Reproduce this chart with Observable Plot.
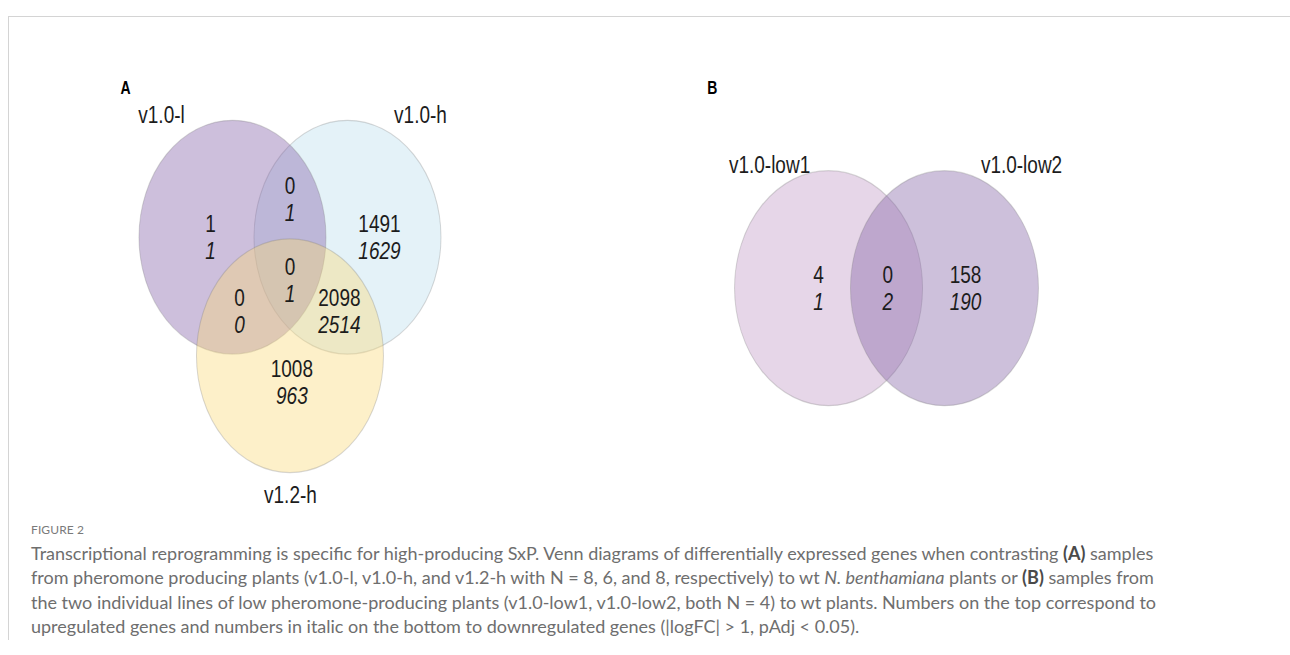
<!DOCTYPE html>
<html>
<head>
<meta charset="utf-8">
<script src="https://cdn.jsdelivr.net/npm/d3@7"></script>
<script src="https://cdn.jsdelivr.net/npm/@observablehq/plot@0.6"></script>
<style>
  html, body { margin: 0; padding: 0; background: #fff; }
  #page { position: relative; width: 1290px; height: 655px; overflow: hidden; }
  #frame { position: absolute; left: 8px; top: 16px; width: 1290px; height: 624px;
           border-top: 1px solid #d4d4d4; border-left: 1px solid #d4d4d4; box-sizing: border-box; }
  #chart { position: absolute; left: 0; top: 0; }
  #chart svg { transform: scaleY(1.25); transform-origin: 0 0; display: block; }
  #caption { position: absolute; left: 31px; top: 521px; font-family: Lato, "Open Sans", sans-serif; color: #6e6e6e; }
  #caption .fig { font-size: 12px; line-height: 18px; letter-spacing: 0.1px; color: #7a7a7a; }
  #caption .txt { margin-top: 2px; font-size: 18px; line-height: 24.3px; white-space: nowrap; }
  #caption b { color: #4a4a4a; }
</style>
</head>
<body>
<div id="page">
  <div id="frame"></div>
  <div id="chart"></div>
  <div id="caption">
    <div class="fig">FIGURE 2</div>
    <div class="txt">Transcriptional reprogramming is specific for high-producing SxP. Venn diagrams of differentially expressed genes when contrasting <b>(A)</b> samples<br>from pheromone producing plants (v1.0-l, v1.0-h, and v1.2-h with N = 8, 6, and 8, respectively) to wt <i>N. benthamiana</i> plants or <b>(B)</b> samples from<br>the two individual lines of low pheromone-producing plants (v1.0-low1, v1.0-low2, both N = 4) to wt plants. Numbers on the top correspond to<br>upregulated genes and numbers in italic on the bottom to downregulated genes (|logFC| &gt; 1, pAdj &lt; 0.05).</div>
  </div>
</div>
<script>
// ---------- data ----------
const setsA = ["v1.0-l", "v1.0-h", "v1.2-h"];
const regionsA = ["v1.0-l only", "v1.0-l & v1.0-h", "v1.0-h only", "all three", "v1.0-l & v1.2-h", "v1.0-h & v1.2-h", "v1.2-h only"];
const upA   = [1, 0, 1491, 0, 0, 2098, 1008];
const downA = [1, 1, 1629, 1, 0, 2514, 963];

const setsB = ["v1.0-low1", "v1.0-low2"];
const regionsB = ["v1.0-low1 only", "both", "v1.0-low2 only"];
const upB   = [4, 0, 158];
const downB = [1, 2, 190];

const panelLabels = ["A", "B"];

// ---------- layout (in units of circle radius) ----------
const U = 93.5;                 // px per unit (logical, before vertical stretch)
const W = 1290, H = 410;
const originA = [3.096, 2.531], originB = [9.476, 2.460];
const venn3Centers  = [[-0.615, -0.507], [0.615, -0.507], [0, 0.507]];
const venn3Regions  = [[-0.850, -0.498], [0, -0.823], [0.957, -0.498], [0, -0.135], [-0.540, 0.135], [0.529, 0.135], [0.02, 0.738]];
const venn3SetLbls  = [[-1.374, -1.550], [1.396, -1.550], [0.005, 1.705]];
const venn2Centers  = [[-0.62, 0], [0.62, 0]];
const venn2Regions  = [[-0.727, 0.007], [0.014, 0.007], [0.845, 0.007]];
const venn2SetLbls  = [[-1.251, -1.048], [1.444, -1.048]];
const panelLblPos   = [[-1.759, -1.778], [-1.864, -1.707]];
const colorsA = ["#825fa8", "#bcdfee", "#fad978"];
const colorsB = ["#c098c6", "#8262a5"];
const drawOrderA = [1, 0, 2];   // blue, purple, yellow

const place = (o, p) => ({x: o[0] + p[0], y: o[1] + p[1]});

const circlesA = drawOrderA.map(i => ({name: setsA[i], color: colorsA[i], ...place(originA, venn3Centers[i])}));
const circlesB = setsB.map((s, i) => ({name: s, color: colorsB[i], ...place(originB, venn2Centers[i])}));
const cellsA = regionsA.map((r, i) => ({region: r, up: upA[i], down: downA[i], ...place(originA, venn3Regions[i])}));
const cellsB = regionsB.map((r, i) => ({region: r, up: upB[i], down: downB[i], ...place(originB, venn2Regions[i])}));
const setLabels = [
  ...setsA.map((s, i) => ({name: s, ...place(originA, venn3SetLbls[i])})),
  ...setsB.map((s, i) => ({name: s, ...place(originB, venn2SetLbls[i])}))
];
const panels = panelLabels.map((p, i) => ({name: p, ...place([originA, originB][i], panelLblPos[i])}));

const font = "Liberation Sans, Arial, sans-serif";
const ink = "#1c1c1c";
const dy = 10.8;

const plot = Plot.plot({
  width: W, height: H, margin: 0,
  x: {domain: [0, W / U], range: [0, W], axis: null},
  y: {domain: [0, H / U], range: [0, H], axis: null},
  color: {type: "identity"},
  style: {background: "transparent", overflow: "visible"},
  marks: [
    Plot.dot(circlesA, {x: "x", y: "y", r: 93.5, fill: "color", fillOpacity: 0.4, stroke: "#7d7d7d", strokeOpacity: 0.3, strokeWidth: 1}),
    Plot.dot(circlesB, {x: "x", y: "y", r: 94, fill: "color", fillOpacity: 0.4, stroke: "#7d7d7d", strokeOpacity: 0.3, strokeWidth: 1}),
    Plot.text([...cellsA, ...cellsB], {x: "x", y: "y", text: d => String(d.up), dy: -dy, fontSize: 19, fontFamily: font, fill: ink}),
    Plot.text([...cellsA, ...cellsB], {x: "x", y: "y", text: d => String(d.down), dy: dy, fontSize: 19, fontStyle: "italic", fontFamily: font, fill: ink}),
    Plot.text(setLabels, {x: "x", y: "y", text: "name", fontSize: 19, fontFamily: font, fill: ink}),
    Plot.text(panels, {x: "x", y: "y", text: "name", fontSize: 14, fontWeight: "bold", fontFamily: font, fill: "#000"})
  ]
});
document.getElementById("chart").appendChild(plot);
</script>
</body>
</html>
